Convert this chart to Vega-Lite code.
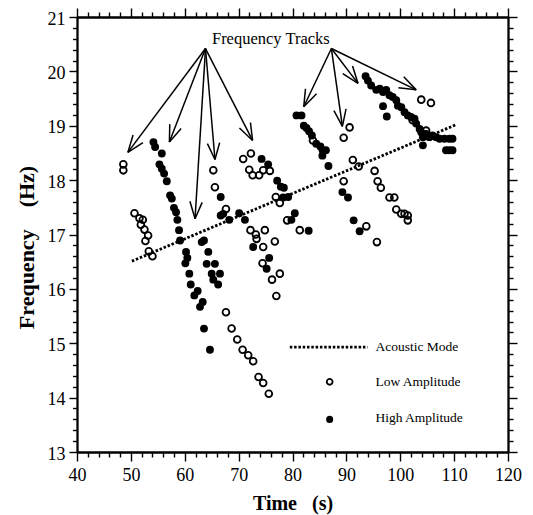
{
  "$schema": "https://vega.github.io/schema/vega-lite/v6.json",
  "width": 431,
  "height": 435,
  "autosize": "none",
  "padding": {"left": 77, "top": 17, "right": 25, "bottom": 63},
  "background": "white",
  "config": {
    "view": {"stroke": null, "fill": null},
    "font": "Liberation Serif",
    "axis": {
      "grid": false,
      "domain": true,
      "ticks": true,
      "tickColor": "black",
      "tickWidth": 1.4,
      "domainColor": "black",
      "domainWidth": 1.8,
      "labelColor": "black",
      "labelFont": "Liberation Serif",
      "labelFontSize": 18,
      "labelOverlap": false,
      "labelFlush": false,
      "titleFont": "Liberation Serif",
      "titleFontWeight": "bold",
      "titleColor": "black"
    }
  },
  "datasets": {
    "low": [
      {"time": 48.6, "freq": 18.29}, {"time": 48.6, "freq": 18.18},
      {"time": 50.67, "freq": 17.39}, {"time": 51.59, "freq": 17.3}, {"time": 52.22, "freq": 17.27},
      {"time": 51.85, "freq": 17.18}, {"time": 52.52, "freq": 17.09}, {"time": 53.2, "freq": 16.98},
      {"time": 52.7, "freq": 16.88}, {"time": 53.33, "freq": 16.69}, {"time": 54.0, "freq": 16.6},
      {"time": 65.3, "freq": 18.18}, {"time": 65.6, "freq": 17.87}, {"time": 67.65, "freq": 17.47},
      {"time": 70.85, "freq": 18.39}, {"time": 72.28, "freq": 18.49}, {"time": 71.97, "freq": 18.19},
      {"time": 72.6, "freq": 18.09}, {"time": 73.8, "freq": 18.09}, {"time": 74.56, "freq": 18.18},
      {"time": 75.8, "freq": 18.17},
      {"time": 76.9, "freq": 17.69}, {"time": 77.65, "freq": 17.58}, {"time": 79.0, "freq": 17.26},
      {"time": 81.35, "freq": 17.08},
      {"time": 72.2, "freq": 17.08}, {"time": 73.2, "freq": 17.0}, {"time": 74.87, "freq": 17.08},
      {"time": 73.33, "freq": 16.92}, {"time": 74.56, "freq": 16.77}, {"time": 76.72, "freq": 16.87},
      {"time": 74.44, "freq": 16.47},
      {"time": 76.2, "freq": 16.17}, {"time": 77.0, "freq": 15.87}, {"time": 77.65, "freq": 16.28},
      {"time": 67.65, "freq": 15.57}, {"time": 68.7, "freq": 15.27}, {"time": 69.74, "freq": 15.07},
      {"time": 70.74, "freq": 14.88}, {"time": 71.78, "freq": 14.78}, {"time": 72.7, "freq": 14.67},
      {"time": 73.7, "freq": 14.38}, {"time": 74.56, "freq": 14.27}, {"time": 75.6, "freq": 14.07},
      {"time": 83.8, "freq": 18.73},
      {"time": 90.6, "freq": 18.97}, {"time": 89.5, "freq": 18.78}, {"time": 91.2, "freq": 18.37},
      {"time": 92.28, "freq": 18.25}, {"time": 89.5, "freq": 17.98},
      {"time": 95.24, "freq": 18.17}, {"time": 95.8, "freq": 17.98}, {"time": 96.4, "freq": 17.86},
      {"time": 98.0, "freq": 17.68}, {"time": 98.9, "freq": 17.68}, {"time": 99.26, "freq": 17.46},
      {"time": 100.19, "freq": 17.38}, {"time": 100.8, "freq": 17.38}, {"time": 101.4, "freq": 17.35},
      {"time": 101.4, "freq": 17.26},
      {"time": 93.7, "freq": 17.15}, {"time": 95.67, "freq": 16.86},
      {"time": 103.9, "freq": 19.48}, {"time": 105.7, "freq": 19.42}, {"time": 102.3, "freq": 19.1},
      {"time": 104.8, "freq": 18.91}
    ],
    "high": [
      {"time": 54.19, "freq": 18.7}, {"time": 54.5, "freq": 18.61}, {"time": 55.74, "freq": 18.49},
      {"time": 55.3, "freq": 18.29}, {"time": 55.74, "freq": 18.21}, {"time": 56.17, "freq": 18.12},
      {"time": 56.67, "freq": 17.98}, {"time": 57.28, "freq": 17.72}, {"time": 57.6, "freq": 17.66},
      {"time": 58.0, "freq": 17.49}, {"time": 58.39, "freq": 17.41}, {"time": 58.63, "freq": 17.27},
      {"time": 58.94, "freq": 17.08}, {"time": 59.13, "freq": 16.89}, {"time": 60.24, "freq": 16.68},
      {"time": 60.48, "freq": 16.57}, {"time": 60.11, "freq": 16.47},
      {"time": 60.85, "freq": 16.28}, {"time": 61.11, "freq": 16.08}, {"time": 61.78, "freq": 15.88},
      {"time": 62.4, "freq": 15.96}, {"time": 62.83, "freq": 15.67}, {"time": 63.33, "freq": 15.76},
      {"time": 63.57, "freq": 15.27}, {"time": 64.68, "freq": 14.88},
      {"time": 63.15, "freq": 16.86}, {"time": 63.57, "freq": 16.89}, {"time": 64.37, "freq": 16.68},
      {"time": 64.07, "freq": 16.46}, {"time": 65.6, "freq": 16.46}, {"time": 65.0, "freq": 16.28},
      {"time": 66.54, "freq": 16.28}, {"time": 65.3, "freq": 16.17}, {"time": 66.2, "freq": 16.08},
      {"time": 66.67, "freq": 17.69}, {"time": 67.15, "freq": 17.38}, {"time": 66.67, "freq": 17.35},
      {"time": 68.26, "freq": 17.27}, {"time": 70.1, "freq": 17.39}, {"time": 71.17, "freq": 17.27},
      {"time": 74.26, "freq": 18.39}, {"time": 75.48, "freq": 18.29}, {"time": 77.15, "freq": 17.99},
      {"time": 77.83, "freq": 17.88}, {"time": 78.4, "freq": 17.86}, {"time": 78.26, "freq": 17.68},
      {"time": 79.2, "freq": 17.69}, {"time": 80.43, "freq": 17.39}, {"time": 79.8, "freq": 17.27},
      {"time": 83.0, "freq": 17.07},
      {"time": 72.7, "freq": 16.77}, {"time": 75.67, "freq": 16.57}, {"time": 75.2, "freq": 16.37},
      {"time": 80.74, "freq": 19.19}, {"time": 81.67, "freq": 19.19}, {"time": 82.1, "freq": 19.0},
      {"time": 82.6, "freq": 18.96}, {"time": 83.07, "freq": 18.9}, {"time": 83.6, "freq": 18.82},
      {"time": 84.4, "freq": 18.67}, {"time": 85.19, "freq": 18.62}, {"time": 85.6, "freq": 18.55},
      {"time": 86.2, "freq": 18.55}, {"time": 85.55, "freq": 18.45}, {"time": 86.67, "freq": 18.26},
      {"time": 89.26, "freq": 17.78}, {"time": 90.3, "freq": 17.68}, {"time": 91.35, "freq": 17.26},
      {"time": 92.46, "freq": 17.06},
      {"time": 93.57, "freq": 19.91}, {"time": 94.0, "freq": 19.83}, {"time": 94.6, "freq": 19.74},
      {"time": 95.55, "freq": 19.66}, {"time": 96.2, "freq": 19.68}, {"time": 96.8, "freq": 19.62},
      {"time": 97.4, "freq": 19.66}, {"time": 98.0, "freq": 19.56}, {"time": 98.6, "freq": 19.53},
      {"time": 99.26, "freq": 19.47}, {"time": 99.56, "freq": 19.37}, {"time": 100.2, "freq": 19.34},
      {"time": 100.8, "freq": 19.25}, {"time": 101.4, "freq": 19.19}, {"time": 102.0, "freq": 19.16},
      {"time": 102.65, "freq": 19.13}, {"time": 102.96, "freq": 19.04}, {"time": 103.6, "freq": 18.94},
      {"time": 103.9, "freq": 18.88}, {"time": 104.2, "freq": 18.79}, {"time": 104.8, "freq": 18.85},
      {"time": 105.4, "freq": 18.79}, {"time": 106.0, "freq": 18.82}, {"time": 106.67, "freq": 18.79},
      {"time": 107.3, "freq": 18.76}, {"time": 108.2, "freq": 18.76}, {"time": 109.1, "freq": 18.76},
      {"time": 109.7, "freq": 18.76}, {"time": 108.5, "freq": 18.55}, {"time": 109.1, "freq": 18.55},
      {"time": 109.7, "freq": 18.55}, {"time": 104.2, "freq": 18.64}, {"time": 96.8, "freq": 19.36},
      {"time": 97.5, "freq": 19.17}
    ],
    "acoustic": [
      {"time": 50.19, "freq": 16.51},
      {"time": 110.37, "freq": 19.02}
    ],
    "arrows": [
      {"t1": 63.85, "f1": 20.42, "t2": 49.44, "f2": 18.51},
      {"t1": 63.85, "f1": 20.42, "t2": 57.15, "f2": 18.7},
      {"t1": 63.85, "f1": 20.42, "t2": 61.91, "f2": 17.29},
      {"t1": 63.85, "f1": 20.42, "t2": 65.61, "f2": 18.38},
      {"t1": 63.85, "f1": 20.42, "t2": 72.59, "f2": 18.73},
      {"t1": 87.22, "f1": 20.42, "t2": 82.09, "f2": 19.35},
      {"t1": 87.22, "f1": 20.42, "t2": 89.26, "f2": 18.99},
      {"t1": 87.22, "f1": 20.42, "t2": 92.15, "f2": 19.78},
      {"t1": 87.22, "f1": 20.42, "t2": 102.96, "f2": 19.66},
      {"t1": 49.44, "f1": 18.51, "t2": 52.24, "f2": 18.69},
      {"t1": 49.44, "f1": 18.51, "t2": 50.41, "f2": 18.83},
      {"t1": 57.15, "f1": 18.7, "t2": 59.33, "f2": 18.95},
      {"t1": 57.15, "f1": 18.7, "t2": 57.22, "f2": 19.03},
      {"t1": 61.91, "f1": 17.29, "t2": 63.24, "f2": 17.59},
      {"t1": 61.91, "f1": 17.29, "t2": 60.96, "f2": 17.61},
      {"t1": 65.61, "f1": 18.38, "t2": 66.48, "f2": 18.69},
      {"t1": 65.61, "f1": 18.38, "t2": 64.2, "f2": 18.67},
      {"t1": 72.59, "f1": 18.73, "t2": 72.19, "f2": 19.06},
      {"t1": 72.59, "f1": 18.73, "t2": 70.15, "f2": 18.96},
      {"t1": 82.09, "f1": 19.35, "t2": 84.46, "f2": 19.59},
      {"t1": 82.09, "f1": 19.35, "t2": 82.41, "f2": 19.68},
      {"t1": 89.26, "f1": 18.99, "t2": 89.94, "f2": 19.31},
      {"t1": 89.26, "f1": 18.99, "t2": 87.69, "f2": 19.28},
      {"t1": 92.15, "f1": 19.78, "t2": 91.15, "f2": 20.1},
      {"t1": 92.15, "f1": 19.78, "t2": 89.33, "f2": 19.96},
      {"t1": 102.96, "f1": 19.66, "t2": 100.65, "f2": 19.9},
      {"t1": 102.96, "f1": 19.66, "t2": 99.65, "f2": 19.7}
    ],
    "notes": [
      {"time": 75.98, "freq": 20.6, "label": "Frequency Tracks"}
    ],
    "legendLine": [
      {"time": 79.5, "freq": 14.93},
      {"time": 93.94, "freq": 14.93}
    ],
    "legendLow": [{"time": 86.9, "freq": 14.29}],
    "legendHigh": [{"time": 86.9, "freq": 13.6}],
    "legendText": [
      {"time": 95.4, "freq": 14.94, "label": "Acoustic Mode"},
      {"time": 95.4, "freq": 14.29, "label": "Low Amplitude"},
      {"time": 95.4, "freq": 13.63, "label": "High Amplitude"}
    ]
  },
  "resolve": {"axis": {"x": "independent", "y": "independent"}},
  "layer": [
    {
      "data": {"name": "low"},
      "mark": {"type": "point", "shape": "circle", "filled": false, "stroke": "black", "strokeWidth": 1.8, "size": 46, "opacity": 1},
      "encoding": {
        "x": {
          "field": "time", "type": "quantitative",
          "scale": {"domain": [40, 120], "nice": false, "zero": false},
          "axis": {
            "orient": "bottom",
            "title": "Time\u00a0\u00a0\u00a0(s)",
            "titleFontSize": 20,
            "titlePadding": 9,
            "values": [40, 50, 60, 70, 80, 90, 100, 110, 120],
            "tickSize": 9,
            "labelPadding": 5.5
          }
        },
        "y": {
          "field": "freq", "type": "quantitative",
          "scale": {"domain": [13, 21], "nice": false, "zero": false},
          "axis": {
            "orient": "left",
            "title": "Frequency\u00a0\u00a0\u00a0\u00a0(Hz)",
            "titleFontSize": 22,
            "titleX": -51,
            "titleY": 230,
            "titleAngle": -90,
            "titleAlign": "center",
            "titleBaseline": "middle",
            "values": [13, 14, 15, 16, 17, 18, 19, 20, 21],
            "tickSize": 8,
            "labelPadding": 4,
            "labelOffset": 2
          }
        }
      }
    },
    {
      "data": {"name": "high"},
      "mark": {"type": "circle", "color": "black", "size": 62, "opacity": 1},
      "encoding": {
        "x": {
          "field": "time", "type": "quantitative",
          "scale": {"domain": [40, 120], "nice": false, "zero": false},
          "axis": {
            "orient": "bottom",
            "title": null,
            "labels": false,
            "values": [42,44,46,48,52,54,56,58,62,64,66,68,72,74,76,78,82,84,86,88,92,94,96,98,102,104,106,108,112,114,116,118],
            "tickSize": 5
          }
        },
        "y": {
          "field": "freq", "type": "quantitative",
          "scale": {"domain": [13, 21], "nice": false, "zero": false},
          "axis": {
            "orient": "left",
            "title": null,
            "labels": false,
            "values": [13.2,13.4,13.6,13.8,14.2,14.4,14.6,14.8,15.2,15.4,15.6,15.8,16.2,16.4,16.6,16.8,17.2,17.4,17.6,17.8,18.2,18.4,18.6,18.8,19.2,19.4,19.6,19.8,20.2,20.4,20.6,20.8],
            "tickSize": 4.5
          }
        }
      }
    },
    {
      "data": {"name": "acoustic"},
      "mark": {"type": "line", "color": "black", "strokeWidth": 2.8, "strokeDash": [2.5, 1.8], "strokeCap": "butt"},
      "encoding": {
        "x": {
          "field": "time", "type": "quantitative",
          "scale": {"domain": [40, 120], "nice": false, "zero": false},
          "axis": {
            "orient": "top",
            "title": null,
            "labels": false,
            "values": [40, 50, 60, 70, 80, 90, 100, 110, 120],
            "tickSize": 9
          }
        },
        "y": {
          "field": "freq", "type": "quantitative",
          "scale": {"domain": [13, 21], "nice": false, "zero": false},
          "axis": {
            "orient": "right",
            "title": null,
            "labels": false,
            "values": [13, 14, 15, 16, 17, 18, 19, 20, 21],
            "tickSize": 9
          }
        }
      }
    },
    {
      "data": {"name": "arrows"},
      "mark": {"type": "rule", "color": "black", "strokeWidth": 1.5},
      "encoding": {
        "x": {
          "field": "t1", "type": "quantitative",
          "scale": {"domain": [40, 120], "nice": false, "zero": false},
          "axis": {
            "orient": "top",
            "title": null,
            "labels": false,
            "values": [42,44,46,48,52,54,56,58,62,64,66,68,72,74,76,78,82,84,86,88,92,94,96,98,102,104,106,108,112,114,116,118],
            "tickSize": 5
          }
        },
        "y": {
          "field": "f1", "type": "quantitative",
          "scale": {"domain": [13, 21], "nice": false, "zero": false},
          "axis": {
            "orient": "right",
            "title": null,
            "labels": false,
            "values": [13.2,13.4,13.6,13.8,14.2,14.4,14.6,14.8,15.2,15.4,15.6,15.8,16.2,16.4,16.6,16.8,17.2,17.4,17.6,17.8,18.2,18.4,18.6,18.8,19.2,19.4,19.6,19.8,20.2,20.4,20.6,20.8],
            "tickSize": 5
          }
        },
        "x2": {"field": "t2"},
        "y2": {"field": "f2"}
      }
    },
    {
      "data": {"name": "notes"},
      "mark": {"type": "text", "font": "Liberation Serif", "fontSize": 16.5, "align": "center", "baseline": "middle", "color": "black"},
      "encoding": {
        "x": {"field": "time", "type": "quantitative", "scale": {"domain": [40, 120], "nice": false, "zero": false}, "axis": null},
        "y": {"field": "freq", "type": "quantitative", "scale": {"domain": [13, 21], "nice": false, "zero": false}, "axis": null},
        "text": {"field": "label"}
      }
    },
    {
      "data": {"name": "legendLine"},
      "mark": {"type": "line", "color": "black", "strokeWidth": 2.8, "strokeDash": [2.5, 1.8], "strokeCap": "butt"},
      "encoding": {
        "x": {"field": "time", "type": "quantitative", "scale": {"domain": [40, 120], "nice": false, "zero": false}, "axis": null},
        "y": {"field": "freq", "type": "quantitative", "scale": {"domain": [13, 21], "nice": false, "zero": false}, "axis": null}
      }
    },
    {
      "data": {"name": "legendLow"},
      "mark": {"type": "point", "shape": "circle", "filled": false, "stroke": "black", "strokeWidth": 1.8, "size": 34, "opacity": 1},
      "encoding": {
        "x": {"field": "time", "type": "quantitative", "scale": {"domain": [40, 120], "nice": false, "zero": false}, "axis": null},
        "y": {"field": "freq", "type": "quantitative", "scale": {"domain": [13, 21], "nice": false, "zero": false}, "axis": null}
      }
    },
    {
      "data": {"name": "legendHigh"},
      "mark": {"type": "circle", "color": "black", "size": 50, "opacity": 1},
      "encoding": {
        "x": {"field": "time", "type": "quantitative", "scale": {"domain": [40, 120], "nice": false, "zero": false}, "axis": null},
        "y": {"field": "freq", "type": "quantitative", "scale": {"domain": [13, 21], "nice": false, "zero": false}, "axis": null}
      }
    },
    {
      "data": {"name": "legendText"},
      "mark": {"type": "text", "font": "Liberation Serif", "fontSize": 13.5, "align": "left", "baseline": "middle", "color": "black"},
      "encoding": {
        "x": {"field": "time", "type": "quantitative", "scale": {"domain": [40, 120], "nice": false, "zero": false}, "axis": null},
        "y": {"field": "freq", "type": "quantitative", "scale": {"domain": [13, 21], "nice": false, "zero": false}, "axis": null},
        "text": {"field": "label"}
      }
    }
  ]
}
